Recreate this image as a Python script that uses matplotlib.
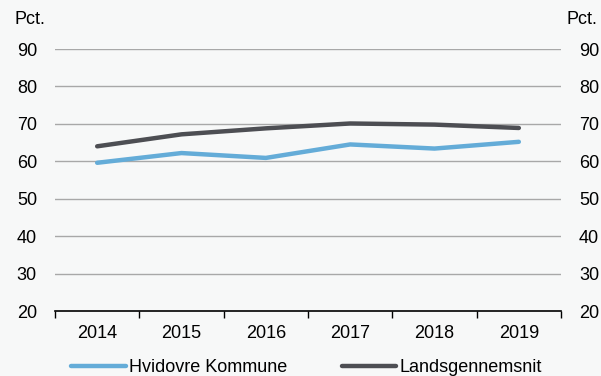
import numpy as np
import matplotlib.pyplot as plt

plt.rcParams['font.family'] = ['Liberation Sans', 'DejaVu Sans']

years = ['2014', '2015', '2016', '2017', '2018', '2019']
hvidovre = [59.6, 62.2, 60.9, 64.5, 63.4, 65.2]
lands = [64.0, 67.2, 68.8, 70.1, 69.8, 68.9]
yticks = [20, 30, 40, 50, 60, 70, 80, 90]

bg = '#f7f8f8'
fs = 13
fig = plt.figure(figsize=(6.01, 3.76), dpi=100, facecolor=bg)
ax = fig.add_axes([55/601, 1 - 311/376, 506/601, 262/376], facecolor=bg)

x = np.arange(len(years))
ax.plot(x, hvidovre, color='#64acd8', lw=3.2, solid_capstyle='round', label='Hvidovre Kommune')
ax.plot(x, lands, color='#4d4e53', lw=3.2, solid_capstyle='round', label='Landsgennemsnit')

ax.set_xlim(-0.5, len(years) - 0.5)
ax.set_ylim(20, 90)
ax.set_yticks(yticks)
ax.set_xticks(x)
ax.set_xticklabels(years)
ax.set_xticks(np.arange(-0.5, len(years)), minor=True)
ax.tick_params(axis='x', which='major', length=0, labelsize=fs, pad=10)
ax.tick_params(axis='x', which='minor', length=5, width=1, direction='out')
ax.tick_params(axis='y', length=0, labelsize=fs, labelright=True, pad=13)
for t in yticks[1:]:
    ax.axhline(t, color='#a8a8a8', lw=1, zorder=0)

for s in ['left', 'right', 'top']:
    ax.spines[s].set_visible(False)
ax.spines['bottom'].set_linewidth(1.2)

fig.text(14/601, 1 - 20/376, 'Pct.', fontsize=fs, va='center', ha='left')
fig.text(567/601, 1 - 20/376, 'Pct.', fontsize=fs, va='center', ha='left')

fig.legend(loc='center', bbox_to_anchor=(0.51, 1 - 368/376), ncol=2, frameon=False,
           fontsize=fs, handlelength=3.0, handletextpad=0.2, columnspacing=3.0)

fig.savefig('out.png', dpi=100, facecolor=bg)
